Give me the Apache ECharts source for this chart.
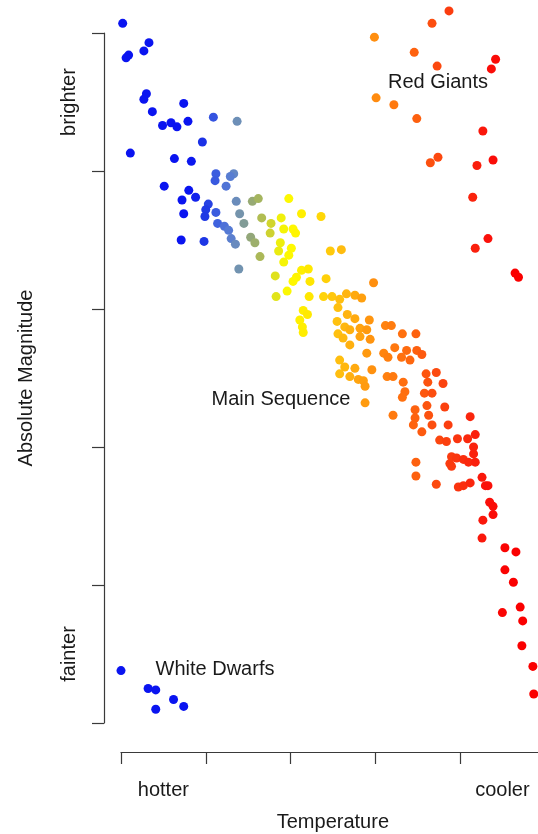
<!DOCTYPE html>
<html>
<head>
<meta charset="utf-8">
<script src="https://cdn.jsdelivr.net/npm/echarts@6/dist/echarts.min.js"></script>
<style>
  html, body { margin: 0; padding: 0; background: #fff; }
  #chart { width: 538px; height: 834px; }
</style>
</head>
<body>
<div id="chart"></div>
<script>
// Temperature index (0 = hottest tick, 5 = coolest tick), magnitude index (0 = faint, 5 = bright)
const mainSequence = [
  [0.02,5.07],[0.33,4.93],[0.27,4.87],[0.09,4.84],[0.06,4.82],[0.30,4.56],[0.27,4.52],[0.74,4.49],
  [0.37,4.43],[0.49,4.33],[0.59,4.35],[0.66,4.32],[0.79,4.36],[1.09,4.39],[1.37,4.36],[0.96,4.21],
  [0.11,4.13],[0.63,4.09],[0.83,4.07],[1.12,3.98],[1.11,3.93],[1.33,3.98],[1.29,3.96],[1.24,3.89],
  [0.51,3.89],[0.80,3.86],[0.88,3.81],[0.72,3.79],[1.36,3.78],[1.55,3.78],[1.62,3.80],[1.03,3.76],
  [1.00,3.72],[0.74,3.69],[1.12,3.70],[0.99,3.67],[1.40,3.69],[1.66,3.66],[1.14,3.62],[1.22,3.60],
  [1.27,3.57],[1.45,3.62],[1.77,3.62],[1.76,3.55],[1.30,3.51],[1.35,3.47],[1.53,3.52],[1.58,3.48],
  [0.71,3.50],[0.98,3.49],[1.64,3.38],[1.39,3.29],[1.82,3.24],
  [1.98,3.80],[1.89,3.66],[1.92,3.58],[2.03,3.58],[2.06,3.55],[2.13,3.69],[2.36,3.67],[1.88,3.48],
  [1.86,3.42],[2.01,3.44],[1.98,3.39],[1.92,3.34],[2.47,3.42],[2.60,3.43],[2.13,3.28],[2.21,3.29],
  [2.07,3.23],[2.03,3.20],[2.23,3.20],[2.42,3.22],[2.98,3.19],[1.96,3.13],[1.83,3.09],[2.22,3.09],
  [2.39,3.09],[2.49,3.09],[2.66,3.11],[2.76,3.10],[2.84,3.08],[2.58,3.07],[2.56,3.01],[2.15,2.99],
  [2.20,2.96],[2.67,2.96],[2.76,2.93],[2.93,2.92],[2.11,2.92],[2.14,2.87],[2.15,2.83],[2.55,2.91],
  [3.12,2.88],[3.19,2.88],[2.64,2.87],[2.70,2.85],[2.82,2.86],[2.90,2.85],[2.56,2.82],[2.62,2.79],
  [2.70,2.74],[2.82,2.80],[2.94,2.78],[3.32,2.82],[3.48,2.82],[2.90,2.68],[3.10,2.68],[3.15,2.65],
  [3.23,2.72],[3.31,2.65],[3.37,2.70],[3.41,2.63],[3.49,2.70],[3.55,2.67],[2.58,2.63],[2.64,2.58],
  [2.58,2.53],[2.70,2.51],[2.76,2.57],[2.80,2.49],[2.96,2.56],[3.14,2.51],[3.21,2.51],[3.33,2.47],
  [2.86,2.48],[2.88,2.44],[3.60,2.53],[3.72,2.54],[3.62,2.47],[3.80,2.46],[3.58,2.39],[3.67,2.39],
  [3.35,2.40],[3.32,2.36],[2.88,2.32],[3.21,2.23],[3.47,2.27],[3.47,2.21],[3.45,2.16],[3.61,2.30],
  [3.63,2.23],[3.67,2.16],[3.55,2.11],[3.82,2.29],[3.86,2.16],[4.12,2.22],[3.76,2.05],[3.84,2.04],
  [3.97,2.06],[4.09,2.06],[4.18,2.09],[4.16,2.00],[4.16,1.95],[3.90,1.93],[3.96,1.92],[4.04,1.91],
  [4.10,1.89],[4.18,1.89],[3.88,1.88],[3.90,1.86],[3.48,1.89],[3.48,1.79],[3.72,1.73],[3.98,1.71],
  [4.04,1.72],[4.12,1.74],[4.26,1.78],[4.30,1.72],[4.33,1.72],[4.35,1.60],[4.39,1.57],[4.39,1.51],
  [4.27,1.47],[4.26,1.34],[4.53,1.27],[4.66,1.24],[4.53,1.11],[4.63,1.02],[4.71,0.84],[4.50,0.80],
  [4.74,0.74],[4.73,0.56],[4.86,0.41],[4.87,0.21]
];
const redGiants = [
  [3.87,5.16],[3.67,5.07],[2.99,4.97],[3.46,4.86],[3.73,4.76],[4.42,4.81],[4.37,4.74],[3.01,4.53],
  [3.22,4.48],[3.49,4.38],[4.27,4.29],[3.74,4.10],[3.65,4.06],[4.39,4.08],[4.20,4.04],[4.15,3.81],
  [4.33,3.51],[4.18,3.44],[4.65,3.26],[4.69,3.23]
];
const whiteDwarfs = [
  [0.00,0.38],[0.32,0.25],[0.41,0.24],[0.62,0.17],[0.74,0.12],[0.41,0.10]
];
// Text annotations: name and position (data units)
const regionNames = ['Red Giants', 'Main Sequence', 'White Dwarfs'];
const regionPositions = [[3.74, 4.645], [1.89, 2.35], [1.11, 0.39]];
// Axis end labels
const xTickValues = [0.5, 4.5];
const xTickLabels = ['hotter', 'cooler'];
const yTickValues = [0.5, 4.5];
const yTickLabels = ['fainter', 'brighter'];
// Colour ramp along temperature (stop positions in temperature index, colours)
const colorStopX = [0.81, 0.99, 1.15, 1.29, 1.38, 1.49, 1.62, 1.74, 1.88, 1.99, 2.23, 2.53, 2.76, 3.00, 3.29, 3.65, 4.00, 4.35, 4.59];
const colorStopRGB = [
  [10,20,240],[30,55,228],[65,100,222],[88,125,210],[112,145,180],[140,162,135],[165,180,95],
  [200,205,55],[240,240,10],[255,250,0],[255,230,0],[255,195,15],[255,170,15],[255,140,15],
  [255,115,15],[252,80,15],[250,50,15],[250,15,10],[250,0,0]
];

const FONT = 'Liberation Sans, Arial, sans-serif';
const TEXT = '#1a1a1a';
const AXIS = '#3a3a3a';

// resample the stop list into evenly spaced colours for the visualMap
function rampColors(n) {
  const lo = colorStopX[0], hi = colorStopX[colorStopX.length - 1];
  const out = [];
  for (let k = 0; k < n; k++) {
    const v = lo + (hi - lo) * k / (n - 1);
    let j = 0;
    while (j < colorStopX.length - 2 && v > colorStopX[j + 1]) j++;
    const t = Math.max(0, Math.min(1, (v - colorStopX[j]) / (colorStopX[j + 1] - colorStopX[j])));
    const a = colorStopRGB[j], b = colorStopRGB[j + 1];
    out.push('rgb(' + a.map((c, i) => Math.round(c + (b[i] - c) * t)).join(',') + ')');
  }
  return out;
}

const chart = echarts.init(document.getElementById('chart'), null, { renderer: 'canvas' });

const starSeries = (name, data) => ({
  name, type: 'scatter', data, symbol: 'circle', symbolSize: 9, clip: false,
  itemStyle: { opacity: 1 }, emphasis: { disabled: true }
});

const fmt = (vals, labels) => v => {
  const i = vals.findIndex(t => Math.abs(t - v) < 1e-6);
  return i >= 0 ? labels[i] : '';
};

chart.setOption({
  animation: false,
  backgroundColor: '#ffffff',
  grid: { left: 121, width: 423.75, top: 33, height: 690, containLabel: false, outerBoundsMode: 'none' },
  visualMap: {
    show: false, type: 'continuous', dimension: 0, seriesIndex: [0, 1, 2],
    min: colorStopX[0], max: colorStopX[colorStopX.length - 1], inRange: { color: rampColors(80) }
  },
  xAxis: {
    type: 'value', min: 0, max: 5, interval: 1, offset: 29,
    name: 'Temperature', nameLocation: 'middle', nameGap: 60,
    nameTextStyle: { fontFamily: FONT, fontSize: 20, color: TEXT },
    axisLine: { show: true, onZero: false, lineStyle: { color: AXIS, width: 1.2 } },
    axisTick: { show: true, length: 12, lineStyle: { color: AXIS, width: 1.2 } },
    splitLine: { show: false },
    axisLabel: {
      show: true, customValues: xTickValues, margin: 28,
      fontFamily: FONT, fontSize: 20, color: TEXT, formatter: fmt(xTickValues, xTickLabels)
    }
  },
  yAxis: {
    type: 'value', min: 0, max: 5, interval: 1, offset: 17,
    name: 'Absolute Magnitude', nameLocation: 'middle', nameGap: 68, nameRotate: 90,
    nameTextStyle: { fontFamily: FONT, fontSize: 20, color: TEXT },
    axisLine: { show: true, onZero: false, lineStyle: { color: AXIS, width: 1.2 } },
    axisTick: { show: true, length: 12, lineStyle: { color: AXIS, width: 1.2 } },
    splitLine: { show: false },
    axisLabel: {
      show: true, customValues: yTickValues, margin: 25, rotate: 90,
      fontFamily: FONT, fontSize: 20, color: TEXT, formatter: fmt(yTickValues, yTickLabels)
    }
  },
  series: [
    starSeries('Main Sequence', mainSequence),
    starSeries('Red Giants', redGiants),
    starSeries('White Dwarfs', whiteDwarfs)
  ]
});

// region annotations placed through the chart's own coordinate conversion (snapped to whole pixels)
chart.setOption({
  graphic: regionNames.map((n, i) => {
    const p = chart.convertToPixel({ gridIndex: 0 }, regionPositions[i]);
    return {
      type: 'text', x: Math.round(p[0]), y: Math.round(p[1]), silent: true,
      style: { text: n, fill: TEXT, font: '20px ' + FONT, textAlign: 'center', textVerticalAlign: 'middle' }
    };
  })
});
</script>
</body>
</html>
